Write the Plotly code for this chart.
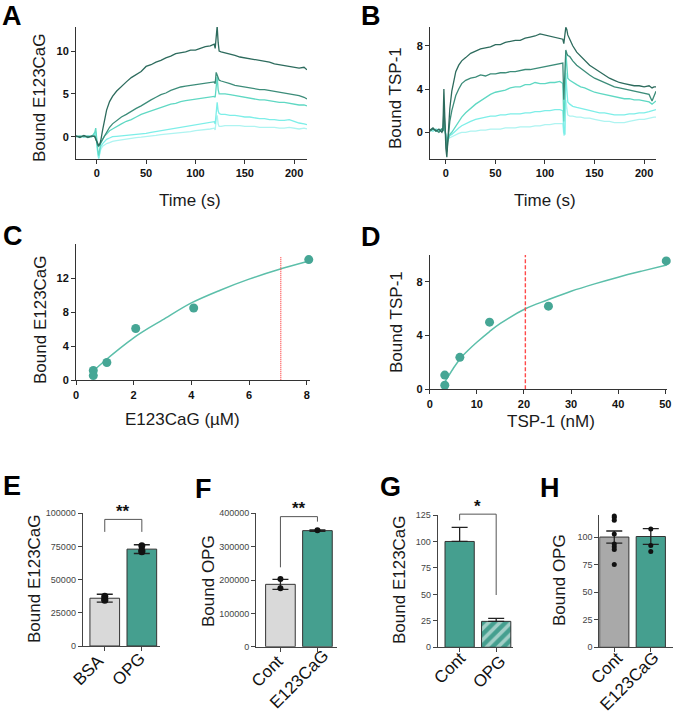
import plotly.graph_objects as go

# ---------------- data ----------------
# Panel A sensorgrams (E123CaG binding), time in s
tA = [-21,-17,-13,-9,-5,-2,-1,0,1,2,3,4,6,8,10,13,16,20,25,30,35,40,45,50,55,60,65,70,75,80,85,90,95,100,105,110,115,119,120,121,122,123,124,126,130,135,140,145,150,155,160,165,170,175,180,185,190,195,200,205,210,213]
A1 = [0.1,-0.1,0.15,-0.05,0.1,0.0,-0.3,-0.6,-0.9,-1.0,-0.9,-0.5,0.8,2.1,3.1,4.1,4.7,5.3,5.9,6.4,6.9,7.3,7.6,8.2,8.4,8.7,8.9,9.2,9.4,9.7,9.8,9.9,10.1,10.1,10.3,10.5,10.6,10.8,10.3,11.5,12.9,11.0,10.0,9.9,9.8,9.6,9.5,9.3,9.2,9.1,9.0,8.9,8.8,8.7,8.5,8.4,8.3,8.2,8.1,8.0,8.1,7.8]
A2 = [0.05,0.0,0.1,-0.1,0.05,0.1,-0.2,-0.7,-1.0,-1.1,-0.9,-0.6,-0.2,0.2,0.6,1.1,1.5,1.9,2.3,2.6,3.0,3.3,3.6,4.0,4.3,4.6,4.9,5.1,5.4,5.6,5.8,5.9,6.0,6.1,6.2,6.3,6.4,6.4,6.2,7.5,7.2,6.8,6.6,6.5,6.4,6.2,6.0,5.9,5.8,5.7,5.6,5.5,5.5,5.4,5.3,5.2,5.1,5.0,4.9,4.8,4.6,4.4]
A3 = [0.0,0.1,-0.05,0.1,0.0,0.5,1.0,-0.5,-1.5,-2.2,-1.6,-0.8,-0.3,0.1,0.3,0.7,0.9,1.2,1.5,1.8,2.0,2.3,2.6,2.8,3.0,3.2,3.4,3.6,3.8,3.9,4.1,4.2,4.3,4.4,4.5,4.6,4.7,4.7,4.6,6.0,7.0,5.5,5.0,5.0,5.0,4.9,4.8,4.7,4.6,4.5,4.4,4.3,4.3,4.2,4.1,4.0,4.0,3.9,3.8,3.7,3.7,3.6]
A4 = [0.05,-0.05,0.1,0.0,0.05,0.3,0.6,-0.8,-1.8,-2.5,-2.0,-1.2,-0.8,-0.5,-0.3,-0.15,0.0,0.05,0.1,0.15,0.25,0.3,0.35,0.4,0.5,0.6,0.7,0.8,0.9,1.0,1.1,1.2,1.3,1.35,1.45,1.55,1.7,1.75,1.5,3.2,4.0,3.0,2.7,2.6,2.6,2.5,2.5,2.4,2.3,2.3,2.2,2.1,2.1,2.0,2.0,1.9,1.9,2.0,1.8,1.6,1.5,1.4]
A5 = [0.0,0.05,-0.05,0.1,0.0,0.2,0.4,-1.0,-2.0,-2.6,-2.2,-1.5,-1.1,-0.9,-0.8,-0.7,-0.55,-0.45,-0.35,-0.3,-0.2,-0.1,-0.05,0.0,0.1,0.15,0.25,0.3,0.35,0.4,0.5,0.55,0.6,0.7,0.75,0.8,0.9,1.0,0.8,2.0,2.5,1.5,1.2,1.2,1.3,1.3,1.3,1.3,1.2,1.2,1.2,1.1,1.1,1.1,1.1,1.0,1.0,1.1,1.0,0.9,1.0,0.9]

# Panel B sensorgrams (TSP-1 binding)
tB = [-16,-13,-10,-7,-4,-3,-2,-1,0,1,2,3,4,6,8,10,13,16,20,25,30,35,40,45,50,55,60,65,70,75,80,85,90,95,100,105,110,115,118,119,120,121,122,123,125,128,132,136,140,145,150,155,160,165,170,175,180,185,190,195,200,205,208,210,212]
B1 = [0.2,0.4,0.1,0.3,0.0,0.2,4.0,1.0,-1.5,-2.3,-0.5,1.0,2.2,3.8,4.8,5.6,6.2,6.6,6.9,7.3,7.5,7.7,7.8,7.9,8.1,8.1,8.3,8.4,8.5,8.5,8.7,8.8,8.9,9.1,9.0,8.9,8.8,8.7,8.6,8.2,9.0,9.7,9.5,9.0,8.6,8.0,7.4,7.0,6.6,6.2,5.9,5.6,5.3,5.0,4.8,4.6,4.5,4.4,4.3,4.3,4.2,4.3,4.1,4.2,4.2]
B2 = [0.1,0.3,0.2,0.0,0.3,0.1,2.0,0.5,-1.0,-1.8,-0.8,0.3,1.0,2.0,2.8,3.4,4.0,4.5,4.8,5.0,5.1,5.3,5.2,5.4,5.4,5.5,5.5,5.6,5.6,5.7,5.8,5.8,5.9,6.0,6.1,6.2,6.3,6.4,6.4,3.0,5.5,7.6,7.3,7.1,7.0,6.6,6.2,5.9,5.6,5.3,5.0,4.8,4.6,4.4,4.2,4.1,4.0,3.9,3.8,3.7,3.6,3.5,2.9,3.4,3.8]
B3 = [0.2,0.3,0.1,0.2,0.3,0.2,1.0,0.3,-0.5,-1.0,-0.8,-0.4,-0.2,0.0,0.3,0.6,1.0,1.4,1.8,2.2,2.6,2.9,3.2,3.5,3.7,3.8,3.9,4.1,4.2,4.2,4.4,4.4,4.6,4.5,4.5,4.6,4.6,4.7,4.5,1.0,3.0,7.5,6.0,5.0,4.8,4.6,4.4,4.2,4.1,3.9,3.7,3.6,3.5,3.4,3.3,3.2,3.1,3.1,3.0,3.0,2.9,2.8,2.6,2.8,2.9]
B4 = [0.2,0.1,0.3,0.2,0.1,0.2,0.5,0.2,-0.3,-0.6,-0.5,-0.4,-0.3,-0.2,0.0,0.2,0.4,0.6,0.8,1.0,1.2,1.3,1.4,1.5,1.5,1.6,1.6,1.7,1.7,1.7,1.8,1.8,1.9,1.9,2.0,2.0,2.1,2.1,2.0,0.0,-0.2,5.5,4.0,2.8,2.6,2.4,2.3,2.2,2.1,2.0,1.9,1.8,1.8,1.7,1.6,1.6,1.6,1.7,1.7,1.8,1.8,1.9,2.0,2.0,2.1]
B5 = [0.2,0.3,0.2,0.1,0.2,0.2,0.3,0.1,-0.2,-0.5,-0.6,-0.55,-0.5,-0.4,-0.3,-0.2,-0.1,0.0,0.0,0.1,0.1,0.2,0.2,0.3,0.3,0.3,0.4,0.4,0.4,0.5,0.5,0.5,0.6,0.6,0.7,0.7,0.8,0.8,0.8,-0.3,-0.2,3.0,2.0,1.6,1.5,1.5,1.4,1.4,1.3,1.3,1.2,1.1,1.0,1.0,0.9,0.9,0.9,1.0,1.1,1.2,1.2,1.3,1.4,1.4,1.4]

# Panel C: E123CaG saturation
C_conc = [0.6, 0.6, 1.07, 2.07, 4.08, 8.07]
C_bound = [1.15, 0.55, 2.1, 6.1, 8.5, 14.2]
C_fit_x = [0.6, 1.0, 1.5, 2.0, 2.5, 3.0, 4.0, 5.0, 6.0, 7.0, 8.05]
C_fit_y = [1.1, 2.3, 3.7, 5.0, 6.1, 7.1, 9.1, 10.6, 11.9, 13.0, 14.0]
C_kd = 7.1
C_kd_top = 14.5

# Panel D: TSP-1 saturation
D_conc = [3.2, 3.2, 6.4, 12.7, 25.2, 50.2]
D_bound = [1.06, 0.3, 2.38, 5.0, 6.19, 9.56]
D_fit_x = [3.3, 5, 6.5, 8, 10, 12.7, 15, 20.3, 25, 30, 35, 40, 45, 50.3]
D_fit_y = [0.6, 1.55, 2.3, 2.85, 3.5, 4.3, 4.9, 6.0, 6.65, 7.3, 7.85, 8.35, 8.8, 9.25]
D_kd = 20.3
D_kd_top = 10

# Panel E-H bar charts
E_cats = ["BSA", "OPG"]
E_means = [36000, 73000]
E_sem = [3000, 3300]
E_pts = [[37500, 35500, 34500], [75500, 72000, 71000]]

F_cats = ["Cont", "E123CaG"]
F_means = [187000, 348000]
F_sem = [15000, 2000]
F_pts = [[203000, 175000], [349000]]

G_cats = ["Cont", "OPG"]
G_means = [100, 24.5]
G_sem = [13.3, 2.9]

H_cats = ["Cont", "E123CaG"]
H_means = [100, 100.5]
H_sem = [5.5, 7.2]
H_pts = [[119.2, 117.8, 115.3, 102.7, 93.6, 91.2, 88.8, 75.2], [120.5, 107.2, 92.4, 87.0]]

# ---------------- style ----------------
W, H = 674, 714
FONT = "Liberation Sans, Arial, sans-serif"
TEAL = "#459f8f"
FIT = "#5cbfaa"
DOT = "#46a695"
LGREY = "#d9d9d9"
MGREY = "#a9a9a9"
RED = "#ff3b3b"
TRACE_COLORS = ["#aef4f1", "#7deee8", "#5fd8c3", "#3c8c79", "#2d6b5d"]


def xd(a, b):
    return [a / W, b / W]


def yd(top, bot):
    return [1 - bot / H, 1 - top / H]


def to_paper(v, rng, dom):
    return dom[0] + (v - rng[0]) / (rng[1] - rng[0]) * (dom[1] - dom[0])


fig = go.Figure()

# A traces (light first so dark on top)
for ys, c in zip([A5, A4, A3, A2, A1], TRACE_COLORS):
    fig.add_trace(go.Scatter(x=tA, y=ys, mode="lines", line=dict(color=c, width=1.3),
                             xaxis="x", yaxis="y", showlegend=False, hoverinfo="skip"))
for ys, c in zip([B5, B4, B3, B2, B1], TRACE_COLORS):
    fig.add_trace(go.Scatter(x=tB, y=ys, mode="lines", line=dict(color=c, width=1.3),
                             xaxis="x2", yaxis="y2", showlegend=False, hoverinfo="skip"))

# C
fig.add_trace(go.Scatter(x=C_fit_x, y=C_fit_y, mode="lines", line=dict(color=FIT, width=1.5, shape="spline"),
                         xaxis="x3", yaxis="y3", showlegend=False))
fig.add_trace(go.Scatter(x=[C_kd, C_kd], y=[0, C_kd_top], mode="lines", line=dict(color=RED, width=1.2, dash="1px,1px"),
                         xaxis="x3", yaxis="y3", showlegend=False))
fig.add_trace(go.Scatter(x=C_conc, y=C_bound, mode="markers", marker=dict(color=DOT, size=9),
                         xaxis="x3", yaxis="y3", showlegend=False, cliponaxis=False))
# D
fig.add_trace(go.Scatter(x=D_fit_x, y=D_fit_y, mode="lines", line=dict(color=FIT, width=1.5, shape="spline"),
                         xaxis="x4", yaxis="y4", showlegend=False))
fig.add_trace(go.Scatter(x=[D_kd + 0.001, D_kd], y=[0, D_kd_top], mode="lines",
                         line=dict(color="#ff4a4a", width=1.4, dash="4px,2px"),
                         xaxis="x4", yaxis="y4", showlegend=False))
fig.add_trace(go.Scatter(x=D_conc, y=D_bound, mode="markers", marker=dict(color=DOT, size=9),
                         xaxis="x4", yaxis="y4", showlegend=False, cliponaxis=False))


def bar_panel(ax, means, sem, colors, pts=None, sem_minus=None, dot_size=7, patterns=None):
    xa, ya = "x" + ax, "y" + ax
    for i, m in enumerate(means):
        marker = dict(color=colors[i], line=dict(color="#333333", width=1))
        if patterns and patterns[i]:
            marker["pattern"] = dict(shape=patterns[i], fgcolor="white", bgcolor=colors[i], size=8, solidity=0.45)
        err = dict(type="data", array=[sem[i]], color="#222222", thickness=1.3, width=8, visible=True)
        if sem_minus is not None:
            err["symmetric"] = False
            err["arrayminus"] = [sem_minus[i]]
        fig.add_trace(go.Bar(x=[i], y=[m], width=0.8, marker=marker, error_y=err,
                             xaxis=xa, yaxis=ya, showlegend=False))
    if pts:
        for i, p in enumerate(pts):
            fig.add_trace(go.Scatter(x=[i] * len(p), y=p, mode="markers",
                                     marker=dict(color="#111111", size=dot_size),
                                     xaxis=xa, yaxis=ya, showlegend=False, cliponaxis=False))


bar_panel("5", E_means, E_sem, [LGREY, TEAL], E_pts, dot_size=7)
bar_panel("6", F_means, F_sem, [LGREY, TEAL], F_pts, dot_size=6)
bar_panel("7", G_means, G_sem, [TEAL, TEAL], None, sem_minus=[0, 0], patterns=[None, "/"])
bar_panel("8", H_means, H_sem, [MGREY, TEAL], H_pts, dot_size=5)

# ---------------- axes ----------------
top_tick = dict(family=FONT, size=11, color="#111111", weight="bold")
bot_tick = dict(family=FONT, size=9, color="#444444")


def axis(dom, rng, tickvals, tickfont, anchor=None, linecolor="#333333", labels=True):
    return dict(domain=dom, range=rng, tickvals=tickvals, tickfont=tickfont, showgrid=False, zeroline=False,
                showline=True, linecolor=linecolor, linewidth=1, ticks="outside", ticklen=4, tickwidth=1,
                tickcolor=linecolor, anchor=anchor, fixedrange=True, automargin=False, showticklabels=labels)


doms = {
    "1": (xd(76, 307), yd(27, 159), [-21, 213], [-2.6, 12.8]),
    "2": (xd(430, 656), yd(27, 159), [-16, 212], [-2.47, 9.73]),
    "3": (xd(76, 310.2), yd(244.3, 380.3), [0, 8.12], [0, 16]),
    "4": (xd(429.7, 667.2), yd(255, 389.3), [0, 50.4], [0, 10]),
    "5": (xd(82.7, 160), yd(513.3, 646), [-0.595, 1.49], [0, 100000]),
    "6": (xd(256, 336.7), yd(513.3, 646.7), [-0.66, 1.52], [0, 400000]),
    "7": (xd(437.7, 513), yd(515, 647.3), [-0.6, 1.46], [0, 125]),
    "8": (xd(599.3, 672.7), yd(515, 647.3), [-0.41, 1.6], [0, 120]),
}

lay = {}
tv = {
    "1": ([0, 50, 100, 150, 200], [0, 5, 10]),
    "2": ([0, 50, 100, 150, 200], [0, 4, 8]),
    "3": ([0, 2, 4, 6, 8], [0, 4, 8, 12]),
    "4": ([0, 10, 20, 30, 40, 50], [0, 4, 8]),
}
for k in ["1", "2", "3", "4"]:
    xdm, ydm, xr, yr = doms[k]
    xn = "xaxis" if k == "1" else "xaxis" + k
    yn = "yaxis" if k == "1" else "yaxis" + k
    ax_id = "" if k == "1" else k
    lay[xn] = axis(xdm, xr, tv[k][0], top_tick, anchor="y" + ax_id)
    lay[yn] = axis(ydm, yr, tv[k][1], top_tick, anchor="x" + ax_id)

bot_y = {
    "5": ([0, 25000, 50000, 75000, 100000], E_cats),
    "6": ([0, 100000, 200000, 300000, 400000], F_cats),
    "7": ([0, 25, 50, 75, 100, 125], G_cats),
    "8": ([0, 25, 50, 75, 100], H_cats),
}
for k in ["5", "6", "7", "8"]:
    xdm, ydm, xr, yr = doms[k]
    lay["xaxis" + k] = axis(xdm, xr, [0, 1], bot_tick, anchor="y" + k, linecolor="#444444", labels=False)
    lay["yaxis" + k] = axis(ydm, yr, bot_y[k][0], bot_tick, anchor="x" + k, linecolor="#444444")
    lay["yaxis" + k]["tickformat"] = "d"

ann = []


def text(x, y, s, size=17, bold=False, angle=0, color="#1a1a1a"):
    ann.append(dict(x=x / W, y=1 - y / H, xref="paper", yref="paper", text=("<b>%s</b>" % s) if bold else s,
                    showarrow=False, xanchor="center", yanchor="middle", textangle=angle,
                    font=dict(family=FONT, size=size, color=color)))


# panel letters
for s, x, y in [("A", 12, 16), ("B", 371, 16), ("C", 13, 236), ("D", 371, 237),
                ("E", 12, 486), ("F", 203, 489), ("G", 390, 487), ("H", 550, 488)]:
    text(x, y, s, size=27, bold=True, color="#000000")

# axis titles
text(40, 98, "Bound E123CaG", angle=-90)
text(396, 98, "Bound TSP-1", angle=-90)
text(190, 200, "Time (s)")
text(545, 200, "Time (s)")
text(40, 320, "Bound E123CaG", angle=-90)
text(397, 322, "Bound TSP-1", angle=-90)
text(182, 419, "E123CaG (µM)")
text(551, 421, "TSP-1 (nM)")
text(34, 579, "Bound E123CaG", angle=-90)
text(208, 581, "Bound OPG", angle=-90)
text(399, 579, "Bound E123CaG", angle=-90)
text(559, 580, "Bound OPG", angle=-90)

# rotated category labels (centres of the rotated text, in px)
label_pos = {"5": [(88, 670), (128.5, 669.5)],
             "6": [(267, 671), (299, 679.5)],
             "7": [(449.5, 668.5), (489.5, 671)],
             "8": [(606.5, 668.5), (629, 681)]}
for k, pos in label_pos.items():
    for lab, (x, y) in zip(bot_y[k][1], pos):
        text(x, y, lab, size=17, angle=-45, color="#111111")

# significance brackets (paper coords derived from data values)
shapes = []
brackets = {"5": (86000, 95400, 86000, "**", 101500),
            "6": (238000, 390000, 375000, "**", 414000),
            "7": (120, 125.8, 49.4, "*", 133)}
for k, (yl, ytop, yr_, star, ys) in brackets.items():
    xdm, ydm, xr, yrng = doms[k]
    x0 = to_paper(0, xr, xdm)
    x1 = to_paper(1, xr, xdm)
    p = lambda v: to_paper(v, yrng, ydm)
    shapes.append(dict(type="path", xref="paper", yref="paper",
                       path="M %f,%f L %f,%f L %f,%f L %f,%f" % (x0, p(yl), x0, p(ytop), x1, p(ytop), x1, p(yr_)),
                       line=dict(color="#555555", width=1)))
    ann.append(dict(x=(x0 + x1) / 2, y=p(ys), xref="paper", yref="paper", text="<b>%s</b>" % star,
                    showarrow=False, xanchor="center", yanchor="middle",
                    font=dict(family=FONT, size=17, color="#111111")))

fig.update_layout(width=W, height=H, margin=dict(l=0, r=0, t=0, b=0, autoexpand=False), paper_bgcolor="white",
                  plot_bgcolor="white", showlegend=False, annotations=ann, shapes=shapes,
                  hovermode=False, **lay)

fig.write_html("out.html")
